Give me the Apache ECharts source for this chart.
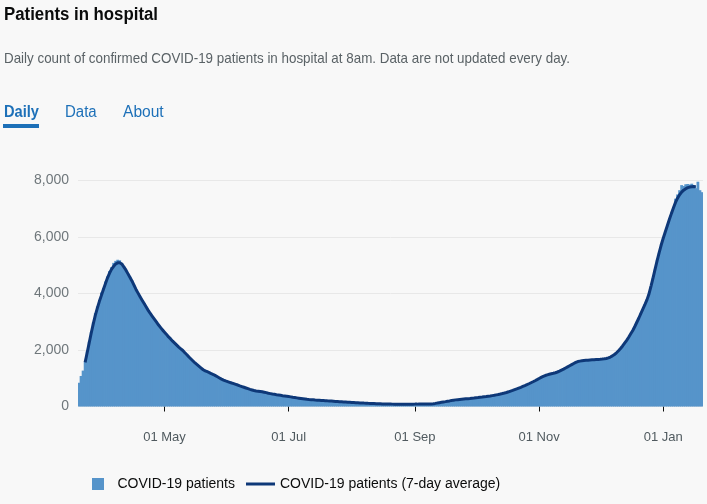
<!DOCTYPE html>
<html>
<head>
<meta charset="utf-8">
<script src="https://cdn.jsdelivr.net/npm/echarts@6/dist/echarts.min.js"></script>
<style>
  html, body { margin: 0; padding: 0; background: #f8f8f8; width: 707px; height: 504px; overflow: hidden; }
  #chart { position: absolute; left: 0; top: 0; width: 707px; height: 504px; }
  .t { position: absolute; white-space: nowrap; font-family: 'Liberation Sans', Arial, sans-serif; transform-origin: 0 0; line-height: 1; }
  #title { left: 4px; top: 5px; font-size: 18px; font-weight: bold; color: #0b0c0c; }
  #sub { left: 4px; top: 50px; font-size: 15px; color: #5a6266; }
  #tab1 { left: 4px; top: 104.2px; font-size: 16px; font-weight: bold; color: #1d70b8; }
  #tab2 { left: 65px; top: 104.2px; font-size: 16px; color: #1d70b8; }
  #tab3 { left: 123.3px; top: 104.2px; font-size: 16px; color: #1d70b8; }
  #uline { position: absolute; left: 3.3px; top: 124.3px; width: 35.7px; height: 3.4px; background: #1d70b8; }
</style>
</head>
<body>
<div id="chart"></div>
<div class="t" id="title">Patients in hospital</div>
<div class="t" id="sub">Daily count of confirmed COVID-19 patients in hospital at 8am. Data are not updated every day.</div>
<div class="t" id="tab1">Daily</div>
<div class="t" id="tab2">Data</div>
<div class="t" id="tab3">About</div>
<div id="uline"></div>
<script>
// ---- Data ----
const startDate = '2020-03-20';          // first daily bar
const avgStartDate = '2020-03-23';       // first 7-day average point

// Daily count of COVID-19 patients in hospital (one value per day)
const dailyPatients = [
  840,1080,1270,1580,1950,2290,2640,2980,3300,3540,
  3760,4030,4180,4420,4600,4790,4930,5080,5150,5190,
  5170,5080,4960,4840,4710,4590,4460,4300,4150,4020,
  3900,3760,3650,3530,3400,3290,3200,3080,3000,2880,
  2810,2700,2640,2540,2470,2380,2320,2230,2180,2090,
  2050,1970,1910,1820,1760,1670,1620,1530,1490,1410,
  1370,1290,1270,1220,1210,1150,1140,1080,1060,1000,
  980,930,910,875,860,825,815,780,765,725,
  710,675,660,625,610,580,570,545,545,525,
  525,500,495,465,460,435,435,410,410,390,
  386,368,362,347,341,322,318,303,297,283,
  278,262,257,247,243,235,230,224,219,214,
  211,204,199,195,190,185,181,175,172,165,
  162,155,152,146,144,138,136,130,128,123,
  121,116,114,109,107,102,101,96,95,91,
  90,86,87,84,85,82,83,81,82,80,
  82,81,83,82,84,83,85,84,86,85,
  87,86,91,96,103,115,124,139,150,162,
  176,184,202,214,229,233,246,251,260,263,
  275,279,288,291,304,306,320,324,337,340,
  356,358,376,381,401,409,430,437,463,474,
  503,516,551,566,603,619,658,676,716,735,
  779,799,847,869,919,944,997,1024,1071,1090,
  1126,1135,1163,1170,1201,1214,1257,1279,1326,1352,
  1407,1432,1487,1512,1566,1584,1611,1609,1631,1624,
  1645,1636,1657,1648,1666,1657,1676,1672,1694,1695,
  1727,1745,1798,1834,1909,1962,2060,2130,2251,2331,
  2462,2558,2702,2818,2993,3118,3304,3437,3624,3766,
  4005,4250,4580,4850,5190,5430,5740,5940,6200,6380,
  6640,6810,7060,7350,7500,7650,7830,7800,7860,7870,
  7850,7880,7800,7720,7950,7650,7580
];

// 7-day average (one value per day, from avgStartDate)
const avgPatients = [
  1560,1900,2250,2600,2920,3220,3480,3720,3930,4150,
  4350,4550,4720,4860,4960,5040,5080,5085,5040,4940,
  4830,4700,4570,4440,4290,4140,4010,3880,3760,3640,
  3520,3400,3290,3190,3090,2990,2890,2800,2710,2630,
  2550,2460,2390,2310,2240,2170,2100,2040,1980,1900,
  1830,1750,1680,1610,1540,1480,1420,1360,1300,1260,
  1230,1200,1160,1130,1090,1050,1010,970,935,905,
  880,855,830,810,785,760,730,705,680,655,
  630,605,585,565,550,540,530,520,505,490,
  470,455,440,430,415,405,395,380,370,360,
  350,340,325,315,305,295,285,275,265,255,
  248,242,236,230,225,220,215,210,205,200,
  196,191,186,181,176,171,166,161,156,151,
  147,143,139,135,131,127,124,120,117,113,
  110,106,103,100,97,94,91,89,87,86,
  85,84,83,82,82,81,81,81,82,82,
  83,83,84,84,85,85,86,86,87,88,
  92,100,110,122,135,148,160,172,185,198,
  212,225,234,242,250,257,264,271,278,285,
  293,300,308,316,325,333,342,351,361,371,
  384,397,411,425,440,458,477,497,520,545,
  570,597,624,652,680,710,740,772,805,840,
  875,912,950,990,1030,1065,1095,1120,1140,1158,
  1174,1195,1220,1250,1285,1320,1360,1400,1440,1480,
  1520,1560,1590,1605,1615,1625,1632,1638,1644,1650,
  1655,1660,1665,1670,1678,1688,1700,1720,1750,1790,
  1840,1900,1970,2050,2140,2240,2340,2450,2570,2690,
  2830,2980,3130,3290,3450,3610,3780,3990,4270,4560,
  4870,5170,5450,5720,5960,6180,6400,6620,6830,7030,
  7220,7370,7490,7580,7650,7700,7740,7760,7775,7780,
  7775
];

const yTicks = [0, 2000, 4000, 6000, 8000];
const monthNames = ['Jan','Feb','Mar','Apr','May','Jun','Jul','Aug','Sep','Oct','Nov','Dec'];
const seriesNames = ['COVID-19 patients', 'COVID-19 patients (7-day average)'];

// ---- Build categories (one per day) ----
function isoDay(base, add) {
  const d = new Date(base + 'T00:00:00Z');
  d.setUTCDate(d.getUTCDate() + add);
  return d.toISOString().slice(0, 10);
}
const categories = dailyPatients.map((_, i) => isoDay(startDate, i));
const avgOffset = categories.indexOf(avgStartDate);
const avgData = categories.map((_, i) => {
  const k = i - avgOffset;
  return (k >= 0 && k < avgPatients.length) ? avgPatients[k] : null;
});

const FONT = "'Liberation Sans', Arial, sans-serif";
function isTick(idx, val) {
  const m = parseInt(val.slice(5, 7), 10);
  return val.slice(8, 10) === '01' && (m % 2 === 1) && m !== 3;
}
function fmtDate(val) {
  return val.slice(8, 10) + ' ' + monthNames[parseInt(val.slice(5, 7), 10) - 1];
}
function fmtNum(v) {
  return String(v).replace(/\B(?=(\d{3})+(?!\d))/g, ',');
}

const BAR = '#5694ca';
const LINE = '#0e3878';

const chart = echarts.init(document.getElementById('chart'), null, { renderer: 'canvas' });
chart.setOption({
  animation: false,
  backgroundColor: 'transparent',
  grid: { left: 78, right: 4, top: 180.3, bottom: 97.5, containLabel: false },
  xAxis: {
    type: 'category',
    data: categories,
    boundaryGap: true,
    offset: 11,
    axisLine: { show: false },
    axisTick: { show: true, alignWithLabel: true, length: 5, interval: isTick, lineStyle: { color: '#0b0c0c', width: 1 } },
    axisLabel: { interval: isTick, formatter: fmtDate, color: '#505a5f', fontSize: 13, margin: 13, fontFamily: FONT },
    splitLine: { show: false }
  },
  yAxis: {
    type: 'value',
    min: yTicks[0],
    max: yTicks[yTicks.length - 1],
    interval: yTicks[1] - yTicks[0],
    axisLine: { show: false },
    axisTick: { show: false },
    axisLabel: { formatter: fmtNum, color: '#6f777b', fontSize: 14, margin: 9, fontFamily: FONT },
    splitLine: { lineStyle: { color: '#e8e8e8', width: 1 } }
  },
  legend: {
    left: 87, top: 472,
    itemWidth: 29, itemHeight: 12, itemGap: 11,
    textStyle: { color: '#0b0c0c', fontSize: 14, fontFamily: FONT },
    data: [
      { name: seriesNames[0], icon: 'path://M0 0H10V10H0Z', itemStyle: { color: BAR } },
      { name: seriesNames[1], icon: 'path://M0 0H29V3H0Z', itemStyle: { color: LINE } }
    ]
  },
  series: [
    {
      type: 'bar', name: seriesNames[0], data: dailyPatients,
      barWidth: 2.8, barGap: '-100%',
      itemStyle: { color: BAR }
    },
    {
      type: 'line', name: seriesNames[1], data: avgData,
      symbol: 'none', showSymbol: false, connectNulls: false,
      lineStyle: { color: LINE, width: 3 },
      itemStyle: { color: LINE }
    }
  ]
});

// Fit header texts to the reference widths
function fit(id, w) {
  const el = document.getElementById(id);
  const r = el.getBoundingClientRect().width;
  if (r > 0) el.style.transform = 'scaleX(' + (w / r) + ')';
}
fit('title', 154);
fit('sub', 566);
fit('tab1', 35);
fit('tab2', 31.7);
fit('tab3', 40.7);
</script>
</body>
</html>
